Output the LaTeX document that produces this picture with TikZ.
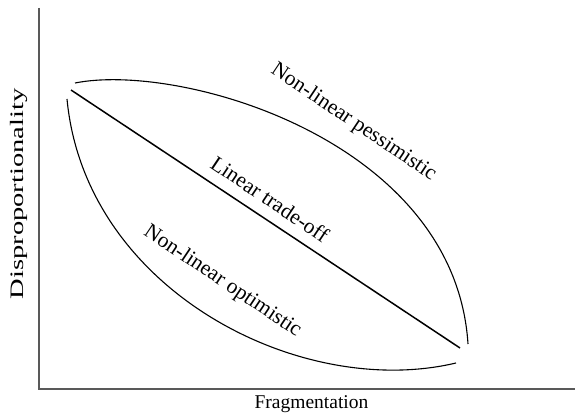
\documentclass[tikz,border=0pt]{standalone}
\usepackage{fontspec}
\setmainfont{Liberation Serif}
\usetikzlibrary{calc}

\begin{document}
\begin{tikzpicture}[x=1pt,y=-1pt]
        \tikzstyle{every node}=[inner sep=0pt,text=black]
        \tikzset{axis/.style={line width=1.2pt,draw=black!65}}
        \tikzset{curve/.style={line width=1.1pt,draw=black}}
        \tikzset{tradeoff/.style={line width=1.5pt,draw=black}}
        \tikzset{curvelabel/.style={font=\fontsize{21.5}{24}\selectfont,rotate=-33.8}}
        \useasboundingbox (0,0) rectangle (575,417);

        % axes
        \coordinate (ytop) at (39,8);
        \coordinate (origin) at (39,389);
        \coordinate (xend) at (575,389);
        \draw [axis] (ytop) -- (origin) -- (xend);
        \node [font=\fontsize{19.5}{22}\selectfont] (xlabel) at (311.5,404) {Fragmentation};
        \node [font=\fontsize{19}{22}\selectfont,rotate=90] (ylabel) at (19,194) {\scalebox{1.5}[1]{Disproportionality}};

        % end points
        \coordinate (pes-a) at (75,83);
        \coordinate (pes-b) at (468,344);
        \coordinate (lin-a) at (71,90);
        \coordinate (lin-b) at (460,348);
        \coordinate (opt-a) at (67,99);
        \coordinate (opt-b) at (456,363);

        \draw [curve] (pes-a) .. controls (180,62) and (455,140) .. (pes-b);
        \draw [tradeoff] (lin-a) -- (lin-b);
        \draw [curve] (opt-a) .. controls (85,290) and (300,400) .. (opt-b);

        \node [curvelabel] (pes) at (353.5,122.5) {Non-linear pessimistic};
        \node [curvelabel] (lin) at (270,199) {Linear trade-off};
        \node [curvelabel] (opt) at (222.5,281.5) {Non-linear optimistic};
    \end{tikzpicture}
\end{document}
